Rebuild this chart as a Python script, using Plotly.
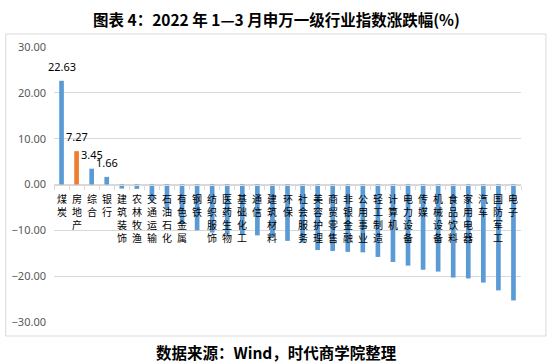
import plotly.graph_objects as go

categories = ["煤炭", "房地产", "综合", "银行", "建筑装饰", "农林牧渔", "交通运输", "石油石化",
              "有色金属", "钢铁", "纺织服饰", "医药生物", "基础化工", "通信", "建筑材料", "环保",
              "社会服务", "美容护理", "商贸零售", "非银金融", "公用事业", "轻工制造", "计算机",
              "电力设备", "传媒", "机械设备", "食品饮料", "家用电器", "汽车", "国防军工", "电子"]
values = [22.63, 7.27, 3.45, 1.66, -0.88, -0.95, -3.5, -5.5,
          -8.5, -10.0, -10.5, -10.9, -11.0, -11.1, -11.5, -12.3,
          -12.7, -14.3, -14.5, -14.7, -14.8, -15.8, -16.9,
          -17.7, -18.6, -19.0, -20.3, -20.5, -21.4, -23.1, -25.3]
highlight = "房地产"
y_ticks = [-30, -20, -10, 0, 10, 20, 30]

BLUE = "#5B9BD5"
ORANGE = "#ED7D31"
colors = [ORANGE if c == highlight else BLUE for c in categories]

fig = go.Figure(go.Bar(x=categories, y=values, marker=dict(color=colors, line=dict(width=0)),
                       hoverinfo="x+y"))

annotations = []
# value labels for positive bars
for c, v in zip(categories, values):
    if v > 0:
        annotations.append(dict(x=c, y=v, xref="x", yref="y", text=f"{v:.2f}", showarrow=False,
                                yanchor="bottom", yshift=6, borderpad=0,
                                font=dict(family="Noto Sans, Liberation Sans", size=11, color="#000000")))
# vertical stacked category labels below zero line
for c in categories:
    annotations.append(dict(x=c, y=0, xref="x", yref="y", text="<br>".join(c), showarrow=False,
                            yanchor="top", yshift=-5, borderpad=0,
                            font=dict(family="Noto Sans CJK SC", size=10, color="#000000")))

L, R, T, B = 52, 29, 47, 41
W, H = 550, 363
pw, ph = W - L - R, H - T - B

# outer border of chart area (paper coords relative to plot area)
bx0, bx1, by0, by1 = 3.5, 546, 34, 336
shapes = [dict(type="rect", xref="paper", yref="paper",
               x0=(bx0 - L) / pw, x1=(bx1 - L) / pw,
               y0=(H - B - by1) / ph, y1=(H - B - by0) / ph,
               line=dict(color="#D9D9D9", width=1), fillcolor="rgba(0,0,0,0)", layer="below")]

annotations.append(dict(xref="paper", yref="paper", x=(275 - L) / pw, y=(H - B - 19) / ph,
                        text="<b>图表 4：2022 年 1—3 月申万一级行业指数涨跌幅(%)</b>", showarrow=False,
                        xanchor="center", yanchor="middle",
                        font=dict(family="Noto Sans CJK SC", size=15.5, color="#000000")))
annotations.append(dict(xref="paper", yref="paper", x=(275 - L) / pw, y=(H - B - 352) / ph,
                        text="<b>数据来源：Wind，时代商学院整理</b>", showarrow=False,
                        xanchor="center", yanchor="middle",
                        font=dict(family="Noto Sans CJK SC", size=15.5, color="#000000")))

fig.update_layout(
    width=W, height=H,
    margin=dict(l=L, r=R, t=T, b=B, pad=0),
    paper_bgcolor="white", plot_bgcolor="white",
    showlegend=False,
    bargap=0.69,
    annotations=annotations,
    shapes=shapes,
    xaxis=dict(type="category", anchor="free", position=0.5, showgrid=False,
               showline=True, linecolor="#D9D9D9", linewidth=1,
               ticks="outside", ticklen=4, tickcolor="#D9D9D9", tickson="boundaries",
               showticklabels=False, range=[-0.5, len(categories) - 0.5], fixedrange=True),
    yaxis=dict(range=[-30, 30], tickvals=y_ticks, tickformat=".2f", showgrid=True,
               gridcolor="#D9D9D9", gridwidth=1, zeroline=False, showline=False,
               ticks="", ticklabelstandoff=7,
               tickfont=dict(family="Noto Sans, Liberation Sans", size=11, color="#595959"),
               fixedrange=True),
)

fig.write_html("out.html", config={"displayModeBar": False},
               post_script="document.body.style.margin='0px';document.body.style.padding='0px';")
